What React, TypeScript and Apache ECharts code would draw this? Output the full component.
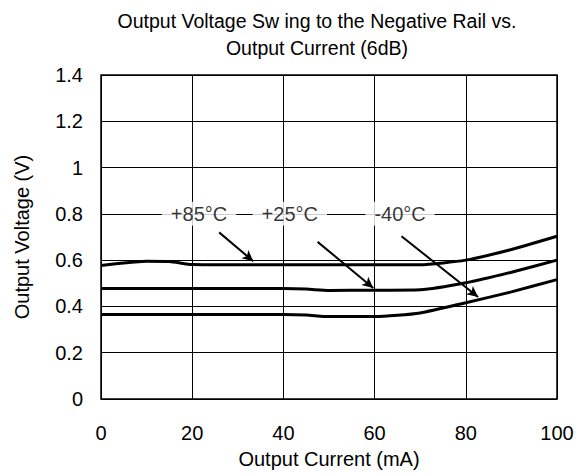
import React, { useEffect, useRef } from "react";
import * as echarts from "echarts";

// Output current (mA) sample points and measured output voltage (V) per temperature
const current85 = [0, 5, 10, 15, 20, 30, 40, 50, 60, 70, 80, 90, 100];
const voltage85 = [0.577, 0.588, 0.595, 0.594, 0.581, 0.58, 0.58, 0.58, 0.58, 0.58, 0.6, 0.646, 0.703];

const current25 = [0, 10, 20, 30, 40, 45, 50, 60, 70, 80, 90, 100];
const voltage25 = [0.477, 0.477, 0.477, 0.477, 0.477, 0.475, 0.469, 0.47, 0.472, 0.502, 0.548, 0.6];

const currentM40 = [0, 10, 20, 30, 40, 45, 50, 60, 70, 80, 90, 100];
const voltageM40 = [0.365, 0.365, 0.365, 0.365, 0.365, 0.363, 0.356, 0.356, 0.372, 0.416, 0.463, 0.516];

// Temperature callouts: text, label position and arrow start/end (mA, V)
const calloutText = ["+85°C", "+25°C", "-40°C"];
const calloutLabelX = [21.5, 41.4, 65.6];
const calloutLabelY = [0.8, 0.8, 0.8];
const arrowFrom: [number, number][] = [[25.9, 0.72], [47.5, 0.679], [65.9, 0.703]];
const arrowTo: [number, number][] = [[33.4, 0.595], [59.7, 0.48], [82.7, 0.441]];

const xTicks = { min: 0, max: 100, interval: 20 };
const yTicks = { min: 0, max: 1.4, interval: 0.2 };

const FONT = "'Liberation Sans', Arial, sans-serif";

const zip = (xs: number[], ys: number[]) => xs.map((x, i) => [x, ys[i]]);

export default function App() {
  const ref = useRef<HTMLDivElement>(null);

  useEffect(() => {
    if (!ref.current) return;
    const chart = echarts.init(ref.current, undefined, { renderer: "svg" });

    const curve = (name: string, data: number[][]) => ({
      name,
      type: "line",
      data,
      showSymbol: false,
      smooth: 0.2,
      lineStyle: { color: "#000", width: 3 },
      z: 3,
    });

    chart.setOption({
      animation: false,
      backgroundColor: "#fff",
      title: {
        text: "Output Voltage Sw ing to the Negative Rail vs.\nOutput Current (6dB)",
        left: 312,
        top: 2,
        textAlign: "center",
        textStyle: {
          fontFamily: FONT,
          fontSize: 19.5,
          fontWeight: "normal",
          color: "#000",
          lineHeight: 27,
        },
      },
      grid: {
        left: 101,
        right: 29,
        top: 75,
        bottom: 74,
        show: true,
        borderColor: "#000",
        borderWidth: 1.5,
        backgroundColor: "transparent",
      },
      xAxis: {
        type: "value",
        ...xTicks,
        name: "Output Current (mA)",
        nameLocation: "middle",
        nameGap: 50,
        nameTextStyle: { fontFamily: FONT, fontSize: 20, color: "#000" },
        axisLine: { show: false },
        axisTick: { show: false },
        axisLabel: { fontFamily: FONT, fontSize: 20, color: "#000", margin: 24 },
        splitLine: { show: true, lineStyle: { color: "#000", width: 1 } },
      },
      yAxis: {
        type: "value",
        ...yTicks,
        name: "Output Voltage (V)",
        nameLocation: "middle",
        nameGap: 69,
        nameTextStyle: { fontFamily: FONT, fontSize: 20, color: "#000" },
        axisLine: { show: false },
        axisTick: { show: false },
        axisLabel: { fontFamily: FONT, fontSize: 20, color: "#000", margin: 18 },
        splitLine: { show: true, lineStyle: { color: "#000", width: 1 } },
      },
      series: [
        curve("+85°C", zip(current85, voltage85)),
        curve("+25°C", zip(current25, voltage25)),
        curve("-40°C", zip(currentM40, voltageM40)),
        {
          name: "callouts",
          type: "scatter",
          symbolSize: 0,
          z: 5,
          data: calloutText.map((t, i) => ({
            value: [calloutLabelX[i], calloutLabelY[i]],
            name: t,
          })),
          label: {
            show: true,
            position: "inside",
            formatter: (p: any) => p.name,
            fontFamily: FONT,
            fontSize: 20,
            color: "#000",
            backgroundColor: "#fff",
            padding: [2, 9, 2, 9],
          },
          markLine: {
            silent: true,
            symbol: ["none", "arrow"],
            symbolSize: [8, 11],
            label: { show: false },
            lineStyle: { color: "#000", width: 2, type: "solid" },
            data: arrowFrom.map((f, i) => [{ coord: f }, { coord: arrowTo[i] }]),
          },
        },
      ],
    });

    return () => chart.dispose();
  }, []);

  return (
    <div
      ref={ref}
      style={{ position: "absolute", left: 0, top: 0, width: 586, height: 474 }}
    />
  );
}
